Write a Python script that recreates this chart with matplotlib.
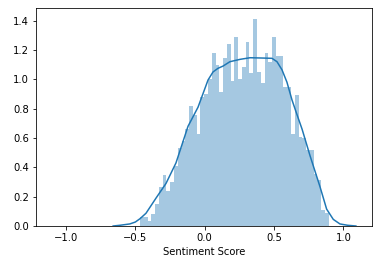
import numpy as np
import matplotlib; matplotlib.use('Agg')
import matplotlib.pyplot as plt

# histogram (density): 50 bins between these limits
bin_lo, bin_hi = -0.466, 0.894
bar_heights = [0.06, 0.06, 0.036, 0.082, 0.15, 0.264, 0.35, 0.239, 0.30, 0.41,
               0.534, 0.58, 0.663, 0.818, 0.757, 0.627, 0.881, 0.90, 1.002, 1.181,
               1.095, 0.915, 1.145, 1.243, 0.99, 1.288, 1.004, 1.086, 1.254, 1.04,
               1.411, 1.05, 0.977, 1.181, 1.12, 1.286, 1.159, 1.159, 0.95, 0.95,
               0.627, 0.893, 0.605, 0.60, 0.52, 0.518, 0.354, 0.314, 0.109, 0.086]

# kde curve points
kde_x = [-0.66, -0.61, -0.54, -0.50, -0.466, -0.423, -0.351, -0.279, -0.207, -0.12,
         -0.048, 0.024, 0.06, 0.096, 0.132, 0.182, 0.255, 0.327, 0.413, 0.485,
         0.521, 0.557, 0.593, 0.629, 0.665, 0.702, 0.759, 0.831, 0.879, 0.927,
         0.975, 1.03, 1.09]
kde_y = [0.0, 0.005, 0.014, 0.027, 0.05, 0.087, 0.19, 0.29, 0.43, 0.68,
         0.81, 0.995, 1.05, 1.075, 1.09, 1.12, 1.136, 1.147, 1.145, 1.143,
         1.12, 1.065, 0.98, 0.86, 0.76, 0.66, 0.48, 0.268, 0.115, 0.045,
         0.014, 0.005, 0.0]

C0 = '#1f77b4'
fig = plt.figure(figsize=(379/72, 265/72), dpi=72)
ax = fig.add_axes([36/379, 1-226/265, 336/379, 218/265])

edges = np.linspace(bin_lo, bin_hi, len(bar_heights)+1)
ax.bar(edges[:-1], bar_heights, width=np.diff(edges), align='edge', color=C0, alpha=0.4, linewidth=0)
ax.plot(kde_x, kde_y, color=C0, lw=1.5)

ax.set_xlim(-1.216, 1.206)
ax.set_ylim(0, 1.486)
ax.set_xticks([-1.0, -0.5, 0.0, 0.5, 1.0])
ax.set_yticks([0.0, 0.2, 0.4, 0.6, 0.8, 1.0, 1.2, 1.4])
ax.set_xlabel('Sentiment Score')

fig.savefig('out.png', dpi=72, facecolor='white')
